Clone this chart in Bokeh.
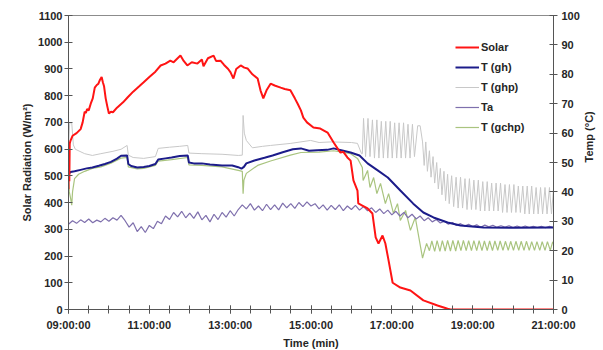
import math
from bokeh.plotting import figure
from bokeh.models import (Range1d, LinearAxis, SingleIntervalTicker, FixedTicker, Legend,
                          LegendItem, CustomJSTickFormatter)
from bokeh.embed import file_html
from bokeh.resources import INLINE

FONT = "Liberation Sans"

# ---------------- data (time in hours of day) ----------------
solar_time = [9.00, 9.01, 9.02, 9.03, 9.05, 9.10, 9.20, 9.30, 9.35, 9.40, 9.43, 9.46, 9.50, 9.55,
              9.60, 9.65, 9.70, 9.74, 9.78, 9.82, 9.85, 9.88, 9.92, 9.96, 10.00, 10.05, 10.10,
              10.20, 10.35, 10.46, 10.60, 10.75, 10.86, 11.00, 11.15, 11.28, 11.40, 11.52, 11.60,
              11.70, 11.77, 11.85, 11.94, 12.05, 12.19, 12.30, 12.34, 12.45, 12.59, 12.65, 12.76,
              12.85, 12.95, 13.01, 13.08, 13.15, 13.26, 13.35, 13.43, 13.55, 13.68, 13.75, 13.82,
              13.90, 14.00, 14.10, 14.25, 14.35, 14.49, 14.60, 14.67, 14.75, 14.81, 14.90, 15.06,
              15.23, 15.41, 15.50, 15.56, 15.66, 15.73, 15.80, 15.90, 15.98, 16.05, 16.15, 16.17,
              16.27, 16.40, 16.52, 16.60, 16.67, 16.77, 16.84, 16.92, 17.02, 17.21, 17.46, 17.78,
              18.13, 18.38, 18.45, 21.00]
solar_wm2 = [450, 600, 480, 620, 632, 650, 660, 675, 700, 740, 735, 750, 745, 770,
             790, 830, 840, 845, 860, 870, 850, 835, 790, 760, 733, 740, 738,
             755, 775, 793, 815, 835, 850, 870, 890, 913, 920, 931, 925,
             940, 950, 930, 913, 925, 920, 935, 910, 940, 950, 930, 931,
             915, 900, 887, 864, 900, 913, 905, 902, 880, 864, 820, 790,
             820, 845, 838, 830, 825, 820, 790, 770, 745, 718, 700, 681,
             677, 662, 640, 625, 602, 587, 590, 569, 557, 483, 445, 397,
             389, 378, 359, 270, 247, 277, 247, 183, 100, 82, 71, 34,
             15, 3, 0, 0]

gh_time = [9.00, 9.05, 9.15, 9.30, 9.45, 9.59, 9.75, 9.90, 10.05, 10.20, 10.30, 10.45, 10.48,
           10.55, 10.70, 10.86, 11.00, 11.15, 11.22, 11.40, 11.55, 11.75, 11.95, 11.98, 12.10,
           12.30, 12.50, 12.80, 13.05, 13.20, 13.28, 13.34, 13.40, 13.60, 13.85, 14.05, 14.30,
           14.55, 14.75, 14.95, 15.15, 15.40, 15.56, 15.80, 15.98, 16.20, 16.40, 16.65, 16.90,
           17.21, 17.53, 17.78, 18.03, 18.38, 18.70, 19.27, 20.00, 21.00]
gh_temp = [46.0, 46.8, 47.0, 47.5, 48.0, 48.3, 48.9, 49.5, 50.2, 51.3, 52.3, 52.4, 49.5,
           48.8, 48.3, 48.5, 48.8, 49.5, 51.0, 51.4, 51.7, 52.2, 52.4, 50.0, 49.7,
           49.7, 49.3, 49.0, 49.0, 48.4, 47.9, 48.5, 49.7, 50.7, 51.6, 52.4, 53.5,
           54.5, 54.8, 54.0, 54.2, 54.3, 54.8, 54.0, 53.4, 52.4, 49.7, 47.3, 44.9,
           40.5, 36.0, 33.0, 31.3, 29.6, 28.6, 27.9, 27.8, 27.9]

ghp_time = [9.00, 9.03, 9.08, 9.12, 9.17, 9.40, 9.59, 9.80, 10.10, 10.30, 10.45, 10.48, 10.60,
            10.86, 11.15, 11.22, 11.50, 11.75, 11.95, 11.98, 12.30, 12.80, 13.20, 13.30, 13.32,
            13.35, 13.40, 13.55, 13.80, 14.00, 14.50, 14.99, 15.20, 15.50, 16.00, 16.15, 16.25,
            16.27, 16.30, 16.35, 16.41, 16.46, 16.52, 16.57, 16.63, 16.68, 16.74, 16.79, 16.85,
            16.90, 16.96, 17.01, 17.07, 17.12, 17.18, 17.23, 17.29, 17.34, 17.40, 17.45, 17.51,
            17.56, 17.64, 17.70, 17.76, 17.80, 17.84, 17.88, 17.93, 17.97, 18.02, 18.06, 18.11,
            18.15, 18.20, 18.24, 18.29, 18.33, 18.38, 18.42, 18.48, 18.53, 18.59, 18.64, 18.70,
            18.75, 18.81, 18.86, 18.92, 18.97, 19.03, 19.08, 19.14, 19.19, 19.25, 19.30, 19.36,
            19.41, 19.47, 19.52, 19.58, 19.63, 19.69, 19.74, 19.80, 19.85, 19.91, 19.96, 20.02,
            20.07, 20.13, 20.18, 20.24, 20.29, 20.35, 20.40, 20.46, 20.51, 20.57, 20.62, 20.68,
            20.73, 20.79, 20.84, 20.90, 20.95, 21.00]
ghp_temp = [55.0, 63.5, 63.5, 56.0, 54.5, 53.0, 52.4, 53.0, 53.8, 54.5, 55.8, 52.5, 51.7,
            51.4, 52.0, 54.8, 55.2, 55.5, 55.8, 53.2, 53.0, 52.8, 52.4, 52.5, 66.0,
            60.0, 57.5, 55.0, 55.5, 55.8, 56.5, 57.5, 56.8, 57.0, 56.8, 56.5, 53.0,
            53.0, 65.0, 52.0, 65.0, 52.0, 64.5, 51.5, 64.5, 51.5, 64.0, 51.5, 64.0,
            51.5, 64.0, 51.5, 63.5, 51.5, 63.5, 51.5, 63.5, 51.5, 63.0, 51.5, 63.0,
            52.0, 62.5, 62.5, 57.0, 49.0, 57.0, 47.0, 54.0, 45.0, 52.0, 43.0, 50.0,
            41.0, 48.0, 39.0, 47.0, 37.0, 46.0, 36.0, 45.5, 35.0, 45.0, 34.5, 45.0,
            34.5, 44.5, 34.0, 44.5, 34.0, 44.0, 34.0, 44.0, 33.5, 43.5, 33.5, 43.5,
            33.5, 43.0, 33.5, 43.0, 33.5, 43.0, 33.0, 42.5, 33.0, 42.5, 33.0, 42.5,
            33.0, 42.0, 33.0, 42.0, 32.5, 42.0, 32.5, 42.0, 32.5, 41.5, 32.5, 41.5,
            32.5, 41.5, 32.5, 41.5, 32.5, 41.0]

ta_start_h = 9.0
ta_step_h = 0.1
ta_temp = [29.0, 30.2, 29.3, 30.5, 29.6, 30.8, 29.5, 30.4, 29.8, 31.0,
           30.0, 31.2, 30.4, 32.0, 30.2, 28.0, 29.5, 26.5, 28.2, 26.2,
           28.6, 27.5, 30.0, 29.2, 31.8, 30.6, 33.0, 31.5, 33.4, 31.2,
           32.8, 31.0, 33.2, 30.5, 32.0, 29.8, 32.4, 30.6, 33.0, 31.4,
           33.6, 31.8, 34.0, 35.6, 34.2, 36.0, 33.8, 35.2, 33.6, 35.8,
           34.0, 35.6, 33.9, 36.2, 34.6, 36.0, 34.4, 36.4, 35.0, 36.6,
           35.2, 36.0, 34.2, 35.6, 33.8, 35.4, 34.0, 35.6, 33.6, 35.2,
           34.0, 35.4, 33.8, 35.0, 33.6, 34.6, 33.0, 34.2, 32.6, 33.8,
           32.2, 33.4, 31.8, 33.0, 31.2, 32.4, 30.8, 31.8, 30.2, 31.2,
           29.8, 30.6, 29.4, 30.0, 29.0, 29.6, 28.6, 29.2, 28.4, 29.0,
           28.2, 28.8, 28.0, 28.7, 28.1, 28.6, 28.0, 28.5, 28.0, 28.5,
           27.9, 28.4, 27.9, 28.4, 27.9, 28.3, 27.9, 28.3, 27.8, 28.3, 27.9]
ta_time = [ta_start_h + i * ta_step_h for i in range(len(ta_temp))]

gchp_time = [9.00, 9.02, 9.05, 9.08, 9.10, 9.15, 9.25, 9.40, 9.59, 9.80, 10.05, 10.30, 10.45,
             10.48, 10.70, 10.86, 11.15, 11.22, 11.55, 11.95, 11.98, 12.30, 12.80, 13.20, 13.30,
             13.32, 13.34, 13.40, 13.68, 14.00, 14.49, 14.75, 15.20, 15.56, 15.98, 16.15, 16.27,
             16.29, 16.40, 16.46, 16.55, 16.63, 16.72, 16.84, 16.92, 17.04, 17.14, 17.21, 17.34,
             17.46, 17.58, 17.76, 17.86, 17.93, 17.99, 18.06, 18.12, 18.19, 18.25, 18.32, 18.38,
             18.45, 18.51, 18.58, 18.64, 18.71, 18.77, 18.84, 18.90, 18.97, 19.03, 19.10, 19.16,
             19.23, 19.29, 19.36, 19.42, 19.49, 19.55, 19.62, 19.68, 19.75, 19.81, 19.88, 19.94,
             20.01, 20.07, 20.14, 20.20, 20.27, 20.33, 20.40, 20.46, 20.53, 20.59, 20.66, 20.72,
             20.79, 20.85, 20.92, 20.98, 21.00]
gchp_temp = [45.0, 40.0, 38.0, 35.5, 40.0, 44.5, 46.0, 47.0, 48.0, 48.5, 49.8, 51.5, 51.7,
             48.5, 47.8, 48.0, 49.0, 50.5, 51.0, 51.7, 49.2, 49.0, 48.5, 47.3, 47.0,
             39.4, 44.0, 46.3, 49.0, 50.5, 52.5, 53.4, 53.5, 54.0, 53.0, 51.4, 48.3,
             43.9, 47.3, 41.5, 44.9, 39.4, 42.9, 36.0, 39.4, 32.7, 36.0, 30.3, 33.7,
             26.9, 31.3, 17.5, 22.5, 20.0, 23.3, 19.8, 23.4, 19.8, 23.4, 19.9, 23.5,
             19.9, 23.5, 19.9, 23.5, 20.0, 23.5, 20.0, 23.4, 20.0, 23.4, 20.0, 23.4,
             20.0, 23.3, 20.0, 23.3, 20.0, 23.3, 20.1, 23.3, 20.1, 23.2, 20.1, 23.2,
             20.1, 23.2, 20.1, 23.2, 20.1, 23.2, 20.1, 23.1, 20.1, 23.1, 20.1, 23.1,
             20.1, 23.1, 20.1, 23.0, 22.5]

hour_major = [9, 11, 13, 15, 17, 19, 21]
hour_minor = [9 + 0.5 * i for i in range(25)]

# ---------------- figure ----------------
p = figure(frame_width=485, frame_height=294, output_backend="svg", toolbar_location=None,
           x_range=Range1d(9, 21), y_range=Range1d(0, 1100),
           min_border_left=68, min_border_right=48, min_border_top=15, min_border_bottom=28,
           background_fill_color="white", border_fill_color="white")
p.extra_y_ranges = {"temp": Range1d(0, 100)}
p.xgrid.visible = False
p.ygrid.visible = False
p.outline_line_color = "#8c8c8c"

r_ghp = p.line(ghp_time, ghp_temp, y_range_name="temp", line_color="#c8c8c8", line_width=1)
r_gchp = p.line(gchp_time, gchp_temp, y_range_name="temp", line_color="#a9c47f", line_width=1.2)
r_ta = p.line(ta_time, ta_temp, y_range_name="temp", line_color="#7f70ad", line_width=1.2)
r_gh = p.line(gh_time, gh_temp, y_range_name="temp", line_color="#1c1c8a", line_width=2)
r_solar = p.line(solar_time, solar_wm2, line_color="#ff1414", line_width=2)

def style_axis(ax):
    ax.axis_line_color = "#555555"
    ax.major_tick_line_color = "#555555"
    ax.minor_tick_line_color = "#555555"
    ax.major_tick_in = 4
    ax.major_tick_out = 4
    ax.minor_tick_in = 4
    ax.minor_tick_out = 4
    ax.major_label_text_font = FONT
    ax.major_label_text_font_style = "bold"
    ax.major_label_text_font_size = "11px"
    ax.major_label_text_color = "#262626"
    ax.axis_label_text_font = FONT
    ax.axis_label_text_font_style = "bold"
    ax.axis_label_text_font_size = "11px"
    ax.axis_label_text_color = "#262626"

yl = p.yaxis[0]
yl.ticker = SingleIntervalTicker(interval=100, num_minor_ticks=0)
yl.axis_label = "Solar Radiation (W/m²)"
style_axis(yl)
yl.major_label_standoff = 2
yl.axis_label_standoff = 2

xa = p.xaxis[0]
xa.ticker = FixedTicker(ticks=hour_major, minor_ticks=hour_minor)
xa.formatter = CustomJSTickFormatter(code="""
const h = Math.round(tick);
return (h < 10 ? '0' : '') + h + ':00:00';
""")
xa.axis_label = "Time (min)"
style_axis(xa)
xa.major_label_standoff = 5
xa.axis_label_standoff = 3

yr = LinearAxis(y_range_name="temp", ticker=SingleIntervalTicker(interval=10, num_minor_ticks=0))
style_axis(yr)
yr.major_label_standoff = 4
yr.axis_label = "Temp (°C)" + "\u00a0" * 14
yr.axis_label_standoff = 6
try:
    yr.axis_label_orientation = math.pi / 2
except Exception:
    pass
p.add_layout(yr, "right")

legend = Legend(items=[LegendItem(label="Solar", renderers=[r_solar]),
                       LegendItem(label="T (gh)", renderers=[r_gh]),
                       LegendItem(label="T (ghp)", renderers=[r_ghp]),
                       LegendItem(label="Ta", renderers=[r_ta]),
                       LegendItem(label="T (gchp)", renderers=[r_gchp])],
                location=(387, 172), orientation="vertical")
legend.background_fill_alpha = 0
legend.border_line_alpha = 0
legend.label_text_font = FONT
legend.label_text_font_style = "bold"
legend.label_text_font_size = "11px"
legend.label_text_color = "#262626"
legend.glyph_width = 24
legend.glyph_height = 20
legend.label_height = 20
legend.label_standoff = 2
legend.padding = 0
legend.spacing = 0
legend.margin = 0
p.add_layout(legend)

open("out.html", "w").write(file_html(p, INLINE))
